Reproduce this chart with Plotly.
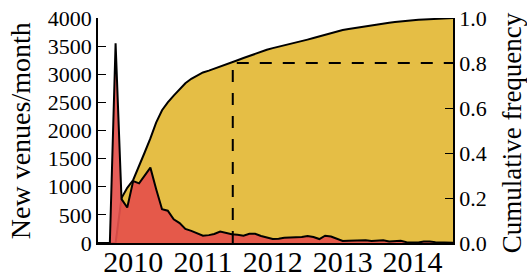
import plotly.graph_objects as go
import pandas as pd

months = pd.date_range("2009-07-01", "2014-08-01", freq="MS").strftime("%Y-%m-%d").tolist()

new_venues = [0, 0, 0, 3550, 780, 630,
              1100, 1060, 1200, 1340, 960, 600, 575, 420, 355, 250, 215, 170,
              130, 140, 160, 205, 175, 155, 145, 130, 165, 165, 125, 100,
              72, 75, 95, 100, 100, 105, 125, 105, 70, 130, 115, 80,
              35, 40, 42, 45, 50, 35, 40, 50, 28, 30, 38, 15,
              10, 10, 25, 28, 15, 10, 8, 3]

cum_freq = [0, 0, 0, 0, 0.20, 0.245,
            0.28, 0.34, 0.40, 0.465, 0.535, 0.59, 0.625, 0.655, 0.685, 0.71, 0.73, 0.745,
            0.758, 0.766, 0.774, 0.783, 0.793, 0.802, 0.812, 0.822, 0.832, 0.842, 0.851, 0.859,
            0.866, 0.872, 0.878, 0.884, 0.89, 0.897, 0.904, 0.911, 0.918, 0.925, 0.933, 0.941,
            0.947, 0.951, 0.955, 0.96, 0.964, 0.968, 0.972, 0.976, 0.979, 0.982, 0.985, 0.988,
            0.99, 0.992, 0.993, 0.995, 0.997, 0.998, 0.999, 1.0]

threshold_date = "2011-06-06"
threshold_level = 0.8

venue_ticks = list(range(0, 4001, 500))
freq_ticks = [0.0, 0.2, 0.4, 0.6, 0.8, 1.0]
year_ticks = ["2010-01-01", "2011-01-01", "2012-01-01", "2013-01-01", "2014-01-01"]
year_labels = ["2010", "2011", "2012", "2013", "2014"]

FONT = "Liberation Serif"
YELLOW = "rgb(229,190,69)"
RED = "rgba(229,80,75,0.92)"

fig = go.Figure()
fig.add_trace(go.Scatter(x=months, y=cum_freq, yaxis="y", mode="lines",
                         line=dict(color="black", width=2), fill="tozeroy",
                         fillcolor=YELLOW, hoverinfo="skip", showlegend=False))
fig.add_trace(go.Scatter(x=months, y=new_venues, yaxis="y2", mode="lines",
                         line=dict(color="black", width=2), fill="tozeroy",
                         fillcolor=RED, hoverinfo="skip", showlegend=False))
fig.add_trace(go.Scatter(x=[threshold_date, threshold_date, months[-1]],
                         y=[0, threshold_level, threshold_level], yaxis="y3",
                         mode="lines", line=dict(color="black", width=2, dash="12px,11px"),
                         hoverinfo="skip", showlegend=False))

fig.update_layout(
    width=527, height=278,
    margin=dict(l=98, r=74, t=18, b=35, autoexpand=False),
    paper_bgcolor="white", plot_bgcolor="white",
    font=dict(family=FONT, color="black"),
    xaxis=dict(type="date", range=[months[0], months[-1]],
               tickvals=year_ticks, ticktext=year_labels, ticks="",
               tickfont=dict(size=30, family=FONT, color="black"),
               ticklabelstandoff=-9,
               showline=True, linecolor="black", linewidth=2, automargin=False,
               showgrid=False, zeroline=False),
    yaxis=dict(side="right", range=[0, 1], tickvals=freq_ticks,
               ticktext=[f"{v:.1f}" for v in freq_ticks],
               ticks="inside", ticklen=8, tickcolor="black", tickwidth=1,
               tickfont=dict(size=22, family=FONT, color="black"), automargin=False,
               showline=True, linecolor="black", linewidth=1.5,
               showgrid=False, zeroline=False),
    yaxis2=dict(overlaying="y", side="left", range=[0, 4000], tickvals=venue_ticks,
                ticks="inside", ticklen=8, tickcolor="black", tickwidth=1,
                tickfont=dict(size=22, family=FONT, color="black"), automargin=False,
                showline=True, linecolor="black", linewidth=1.5,
                showgrid=False, zeroline=False),
    yaxis3=dict(overlaying="y", range=[0, 1], visible=False),
    annotations=[
        dict(text="New venues/month", xref="paper", yref="paper", x=-0.2177, y=0.5,
             textangle=-90, showarrow=False, xanchor="center", yanchor="middle",
             font=dict(size=28, family=FONT, color="black")),
        dict(text="Cumulative frequency", xref="paper", yref="paper", x=1.165, y=0.49,
             textangle=-90, showarrow=False, xanchor="center", yanchor="middle",
             font=dict(size=27, family=FONT, color="black")),
    ],
)

fig.write_html("out.html", config={"displayModeBar": False},
               post_script="document.body.style.margin='0';document.body.style.padding='0';")
